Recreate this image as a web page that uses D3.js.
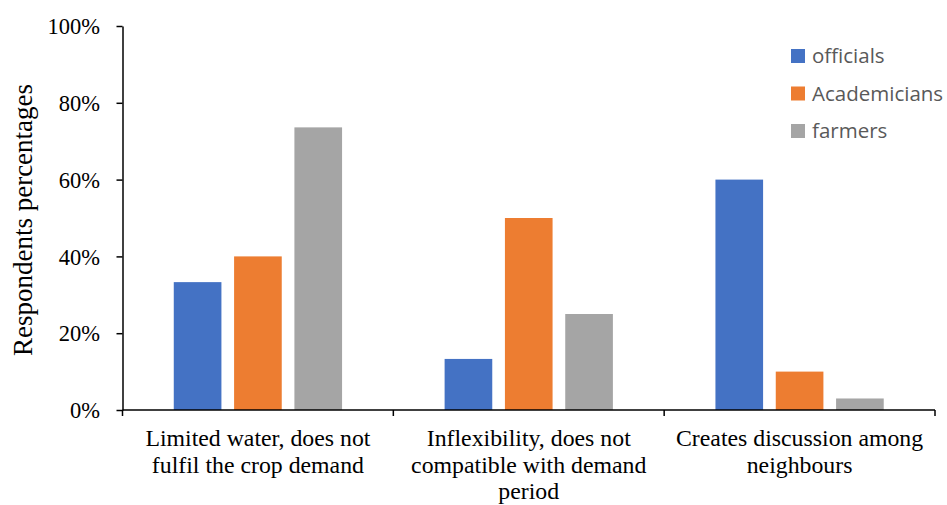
<!DOCTYPE html>
<html>
<head>
<meta charset="utf-8">
<script src="https://cdn.jsdelivr.net/npm/d3@7"></script>
<style>
  html, body { margin: 0; padding: 0; background: #fff; }
  svg { display: block; }
</style>
</head>
<body>
<svg id="chart" width="947" height="505"></svg>
<script>
// Categories (each label split into its display lines)
const categories = [
  ["Limited water, does not", "fulfil the crop demand"],
  ["Inflexibility, does not", "compatible with demand", "period"],
  ["Creates discussion among", "neighbours"]
];
const seriesNames = ["officials", "Academicians", "farmers"];
const officials = [33.3, 13.3, 60];
const academicians = [40, 50, 10];
const farmers = [73.6, 25, 3];
const yTicks = [0, 20, 40, 60, 80, 100];
const colors = ["#4472C4", "#ED7D31", "#A5A5A5"];

const seriesValues = [officials, academicians, farmers];
const catIdx = categories.map((_, i) => i);

const svg = d3.select("#chart");
const plotLeft = 122.5, plotRight = 935, plotTop = 26, plotBottom = 410;
const serif = "'Liberation Serif', 'Times New Roman', serif";

const x0 = d3.scaleBand().domain(catIdx).range([plotLeft, plotRight]).paddingInner(0).paddingOuter(0);
const x1 = d3.scaleBand().domain(seriesNames).range([0, x0.bandwidth()]).paddingInner(0.21).paddingOuter(0.85);
const y = d3.scaleLinear().domain([0, 100]).range([plotBottom, plotTop]);

// Bars
const groups = svg.append("g").selectAll("g").data(catIdx).join("g")
  .attr("transform", i => `translate(${x0(i)},0)`);
groups.selectAll("rect")
  .data(i => seriesNames.map((s, k) => ({ s, k, v: seriesValues[k][i] })))
  .join("rect")
  .attr("x", d => x1(d.s))
  .attr("width", x1.bandwidth())
  .attr("y", d => y(d.v))
  .attr("height", d => y(0) - y(d.v))
  .attr("fill", d => colors[d.k]);

// Y axis
const yAxis = svg.append("g").attr("transform", `translate(${plotLeft},0)`)
  .call(d3.axisLeft(y).tickValues(yTicks).tickFormat(d => d + "%").tickSize(6).tickSizeOuter(0));
yAxis.select(".domain").attr("stroke", "#000").attr("stroke-width", 1.5);
yAxis.selectAll(".tick line").attr("stroke", "#000").attr("stroke-width", 1.5);
yAxis.selectAll(".tick text")
  .attr("x", -22.5)
  .attr("dy", "0.34em")
  .attr("font-family", serif)
  .attr("font-size", 22.5)
  .attr("fill", "#000");

// X axis with ticks at band boundaries
const xAxisG = svg.append("g");
xAxisG.append("line")
  .attr("x1", plotLeft).attr("x2", plotRight).attr("y1", plotBottom).attr("y2", plotBottom)
  .attr("stroke", "#000").attr("stroke-width", 1.5);
const boundaries = catIdx.map(i => x0(i)).concat([x0(catIdx[catIdx.length - 1]) + x0.bandwidth()]);
xAxisG.selectAll("line.tk").data(boundaries).join("line")
  .attr("class", "tk")
  .attr("x1", d => d).attr("x2", d => d)
  .attr("y1", plotBottom).attr("y2", plotBottom + 6)
  .attr("stroke", "#000").attr("stroke-width", 1.5);

// Category labels
const labels = svg.append("g").selectAll("text").data(catIdx).join("text")
  .attr("text-anchor", "middle")
  .attr("font-family", serif)
  .attr("font-size", 23.8)
  .attr("fill", "#000");
labels.each(function (i) {
  const t = d3.select(this);
  categories[i].forEach((line, j) => {
    t.append("tspan")
      .attr("x", x0(i) + x0.bandwidth() / 2)
      .attr("y", 446 + j * 26.5)
      .text(line);
  });
});

// Y axis title
svg.append("text")
  .attr("transform", `translate(32,220) rotate(-90)`)
  .attr("text-anchor", "middle")
  .attr("font-family", serif)
  .attr("font-size", 27)
  .attr("fill", "#000")
  .text("Respondents percentages");

// Legend
const legend = svg.append("g").selectAll("g").data(seriesNames).join("g")
  .attr("transform", (d, k) => `translate(791,${49 + k * 37.5})`);
legend.append("rect").attr("width", 14).attr("height", 14).attr("fill", (d, k) => colors[k]);
legend.append("text")
  .attr("x", 21).attr("y", 14)
  .attr("font-family", "'Open Sans', 'Liberation Sans', sans-serif")
  .attr("font-size", 20.5)
  .attr("fill", "#595959")
  .text(d => d);
</script>
</body>
</html>
